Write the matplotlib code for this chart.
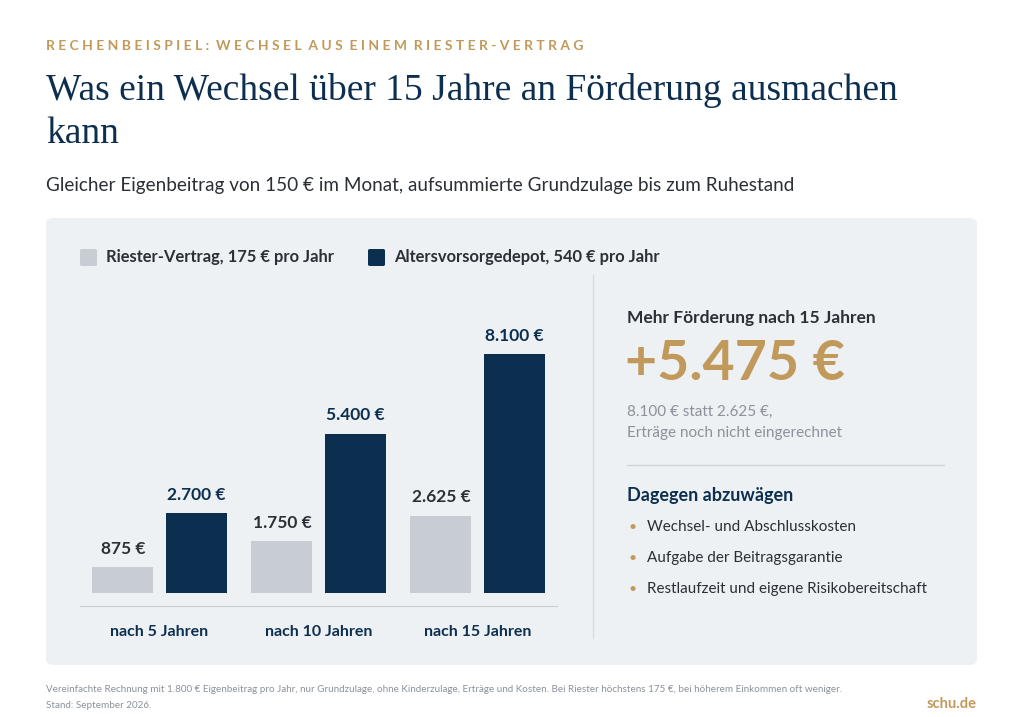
import matplotlib.pyplot as plt
from matplotlib.patches import FancyBboxPatch

groups = ['nach 5 Jahren', 'nach 10 Jahren', 'nach 15 Jahren']
riester = [875, 1750, 2625]
depot = [2700, 5400, 8100]
riester_labels = ['875 €', '1.750 €', '2.625 €']
depot_labels = ['2.700 €', '5.400 €', '8.100 €']
points = ['Wechsel- und Abschlusskosten', 'Aufgabe der Beitragsgarantie',
          'Restlaufzeit und eigene Risikobereitschaft']

NAVY = '#0d2f4f'
GREY = '#c8cdd3'
GOLD = '#c19a5b'
TEXT = '#2b2f36'
MUTED = '#8b929a'
W, H = 1024, 717

plt.rcParams['font.family'] = ['Lato', 'DejaVu Sans']
fig = plt.figure(figsize=(W / 100, H / 100), dpi=100)
fig.patch.set_facecolor('white')


def px(x, y):
    return x / W, 1 - y / H


def txt(x, y, s, **kw):
    fig.text(*px(x, y), s, **kw)


txt(46, 46, ' '.join('RECHENBEISPIEL: WECHSEL AUS EINEM RIESTER-VERTRAG').replace('   ', '  '),
    fontsize=10, color=GOLD, weight='bold', va='center')
fig.text(*px(46, 90), 'Was ein Wechsel über 15 Jahre an Förderung ausmachen', fontsize=27,
         color=NAVY, family='Liberation Serif', va='center')
fig.text(*px(46, 134), 'kann', fontsize=27, color=NAVY, family='Liberation Serif', va='center')
txt(46, 185, 'Gleicher Eigenbeitrag von 150 € im Monat, aufsummierte Grundzulage bis zum Ruhestand',
    fontsize=13.6, color=TEXT, va='center')

fx0, fy0 = px(46, 665)
fx1, fy1 = px(977, 218)
panel = FancyBboxPatch((fx0, fy0), fx1 - fx0, fy1 - fy0, boxstyle='round,pad=0,rounding_size=0.008',
                       transform=fig.transFigure, facecolor='#eef1f4', edgecolor='none', zorder=-1)
fig.patches.append(panel)

# legend
for x, c, lab in [(80, GREY, 'Riester-Vertrag, 175 € pro Jahr'),
                  (368, NAVY, 'Altersvorsorgedepot, 540 € pro Jahr')]:
    lx, ly = px(x, 266)
    fig.patches.append(FancyBboxPatch((lx, ly), 17 / W, 17 / H, boxstyle='round,pad=0,rounding_size=0.002',
                                      transform=fig.transFigure, facecolor=c, edgecolor='none'))
    txt(x + 26, 257, lab, fontsize=11.9, color=TEXT, weight='bold', va='center')

# bar chart
ax0, ay0 = px(80, 606)
ax = fig.add_axes([ax0, ay0, 477 / W, 306 / H], zorder=2)
ax.set_facecolor('none')
xs = list(range(len(groups)))
off, bw = 0.23, 0.384
b1 = ax.bar([x - off for x in xs], riester, width=bw, color=GREY)
b2 = ax.bar([x + off for x in xs], depot, width=bw, color=NAVY)
for b, l in zip(b1, riester_labels):
    ax.text(b.get_x() + b.get_width() / 2, b.get_height() + 350, l, ha='center', va='bottom',
            fontsize=12.5, weight='bold', color=TEXT)
for b, l in zip(b2, depot_labels):
    ax.text(b.get_x() + b.get_width() / 2, b.get_height() + 350, l, ha='center', va='bottom',
            fontsize=12.5, weight='bold', color=NAVY)
ax.set_xlim(-0.5, 2.5)
ax.set_ylim(-440, 9930)
for s in ['top', 'right', 'left']:
    ax.spines[s].set_visible(False)
ax.spines['bottom'].set_color('#c9ced4')
ax.set_yticks([])
ax.set_xticks(xs)
ax.set_xticklabels(groups, fontsize=11.5, weight='bold', color=NAVY)
ax.tick_params(axis='x', length=0, pad=14)

# divider
fig.add_artist(plt.Line2D([593 / W] * 2, [1 - 275 / H, 1 - 638 / H], color='#d8dce1', lw=1))

txt(627, 318, 'Mehr Förderung nach 15 Jahren', fontsize=12.5, weight='bold', color=TEXT, va='center')
txt(625, 364, '+5.475 €', fontsize=40, weight='bold', color=GOLD, va='center')
txt(627, 412, '8.100 € statt 2.625 €,', fontsize=11, color=MUTED, va='center')
txt(627, 433, 'Erträge noch nicht eingerechnet', fontsize=11, color=MUTED, va='center')
fig.add_artist(plt.Line2D([627 / W, 944 / W], [1 - 465 / H] * 2, color='#d0d5da', lw=1))
txt(627, 495, 'Dagegen abzuwägen', fontsize=13, weight='bold', color=NAVY, va='center')
for i, p in enumerate(points):
    y = 527 + i * 31
    txt(629, y, '•', fontsize=10, color=GOLD, va='center')
    txt(647, y, p, fontsize=11, color=TEXT, va='center')

txt(46, 689, 'Vereinfachte Rechnung mit 1.800 € Eigenbeitrag pro Jahr, nur Grundzulage, ohne Kinderzulage, '
    'Erträge und Kosten. Bei Riester höchstens 175 €, bei höherem Einkommen oft weniger.',
    fontsize=7.15, color=MUTED, va='center')
txt(46, 705, 'Stand: September 2026.', fontsize=7.15, color=MUTED, va='center')
txt(977, 704, 'schu.de', fontsize=10.5, weight='bold', color=GOLD, ha='right', va='center')

fig.savefig('out.png', dpi=100, facecolor='white')
